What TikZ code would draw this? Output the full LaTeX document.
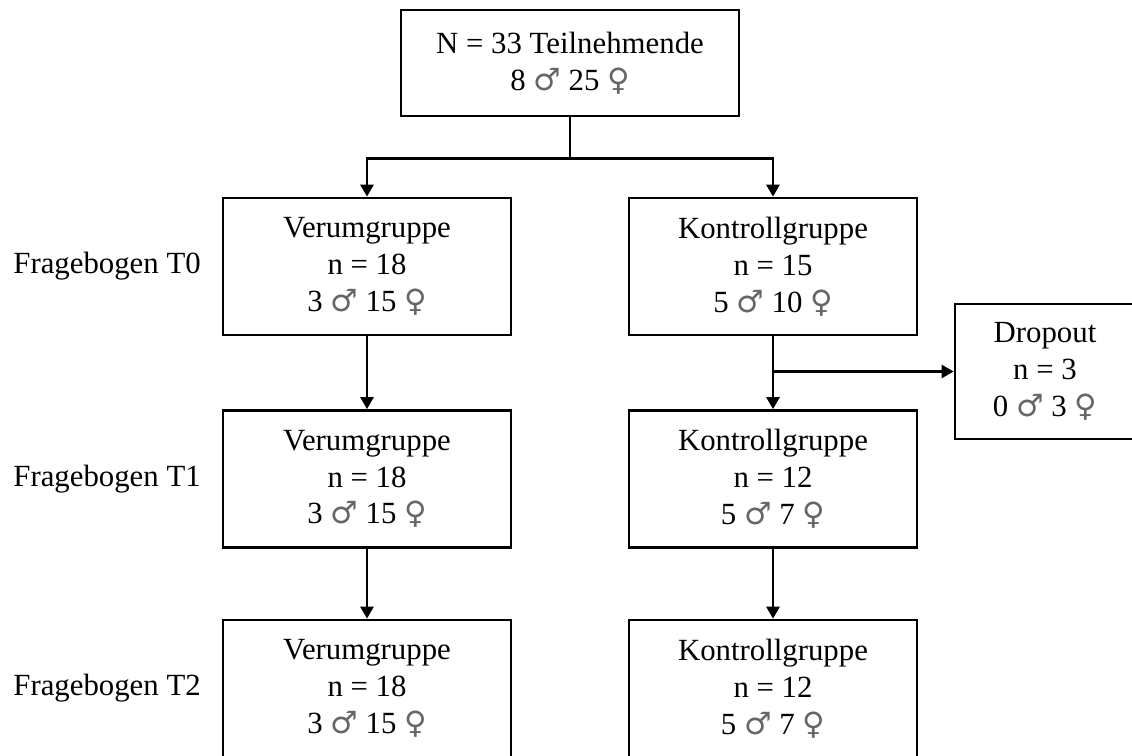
\documentclass[tikz,border=0pt]{standalone}
\usepackage{fontspec}
\setmainfont{Liberation Serif}
\newfontfamily\symfont{DejaVu Sans}
\usetikzlibrary{arrows.meta,positioning}
\newcommand{\msym}{{\symfont\color{black!60}\char"2642}}
\newcommand{\fsym}{{\symfont\color{black!60}\char"2640}}

\begin{document}
\begin{tikzpicture}[x=0.5pt,y=-0.5pt,
    every node/.style={font=\fontsize{15.4}{18.4}\selectfont},
    grpbox/.style={draw, line width=1.35pt, align=center, inner sep=0pt,
                   minimum width=144pt, minimum height=68.5pt},
    conn/.style={line width=1.35pt},
    arr/.style={conn, -{Triangle[length=6pt,width=6.5pt]}}]
    \useasboundingbox (0,0) rectangle (1132,756);

    % Boxes
    \node[grpbox, minimum width=169pt, minimum height=53pt] (top) at (570,63)
        {N = 33 Teilnehmende\\8 \msym\ 25 \fsym};
    \foreach \r/\y/\n in {0/266.5/18, 1/479/18, 2/688.5/18} {
        \node[grpbox] (v\r) at (367,\y) {Verumgruppe\\n = \n\\3 \msym\ 15 \fsym};
    }
    \node[grpbox] (k0) at (773,266.5) {Kontrollgruppe\\n = 15\\5 \msym\ 10 \fsym};
    \node[grpbox] (k1) at (773,479) {Kontrollgruppe\\n = 12\\5 \msym\ 7 \fsym};
    \node[grpbox] (k2) at (773,688.5) {Kontrollgruppe\\n = 12\\5 \msym\ 7 \fsym};
    \node[grpbox, minimum width=90pt, minimum height=67.5pt] (drop) at (1045,371.5)
        {Dropout\\n = 3\\0 \msym\ 3 \fsym};

    % Row labels
    \foreach \r/\y in {0/266.5, 1/479, 2/688.5} {
        \node[anchor=west, inner sep=0pt] (t\r) at (13,\y) {Fragebogen T\r};
    }

    % Connectors
    \coordinate (split) at ([yshift=-20.5pt]top.south);
    \draw[conn] (top.south) -- (split);
    \draw[arr] (split) -| (v0.north);
    \draw[arr] (split) -| (k0.north);
    \foreach \a/\b in {v0/v1, v1/v2, k0/k1, k1/k2}
    {   \draw[arr] (\a) -- (\b);}
    \coordinate (branch) at (k0.south |- drop.west);
    \draw[arr] (branch) -- (drop.west);
\end{tikzpicture}
\end{document}
